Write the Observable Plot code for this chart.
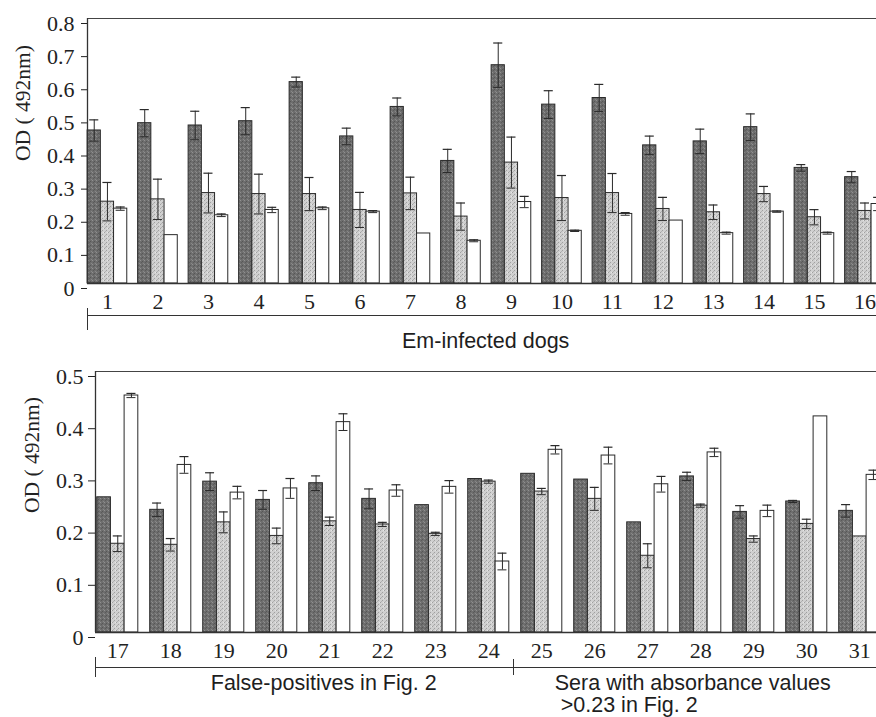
<!DOCTYPE html>
<html>
<head>
<meta charset="utf-8">
<script src="https://cdn.jsdelivr.net/npm/d3@7"></script>
<script src="https://cdn.jsdelivr.net/npm/@observablehq/plot@0.6"></script>
<style>
  body { margin: 0; background: #fff; }
  #wrap { position: relative; width: 876px; height: 717px; overflow: hidden; background: #fff; }
  #wrap svg.panel { position: absolute; left: 0; }
  .br { position: absolute; border-top: 1px solid #333; height: 0; }
  .tick { position: absolute; border-left: 1px solid #333; width: 0; }
  .cap { position: absolute; font-family: "Liberation Sans", Arial, sans-serif; color: #1e1e1e; line-height: 1; white-space: nowrap; }
</style>
</head>
<body>
<svg width="0" height="0" style="position:absolute">
  <defs>
    <pattern id="pDark" width="4" height="4" patternUnits="userSpaceOnUse">
      <rect width="4" height="4" fill="#6e6e6e"/>
      <rect x="0" y="0" width="1" height="1" fill="#909090"/>
      <rect x="2" y="1" width="1" height="1" fill="#565656"/>
      <rect x="3" y="3" width="1" height="1" fill="#888888"/>
      <rect x="1" y="2" width="1" height="1" fill="#5b5b5b"/>
    </pattern>
    <pattern id="pStip" width="4" height="4" patternUnits="userSpaceOnUse">
      <rect width="4" height="4" fill="#d0d0d0"/>
      <rect x="0" y="0" width="1" height="1" fill="#a0a0a0"/>
      <rect x="2" y="2" width="1" height="1" fill="#a0a0a0"/>
      <rect x="3" y="0" width="1" height="1" fill="#e6e6e6"/>
      <rect x="1" y="3" width="1" height="1" fill="#b2b2b2"/>
    </pattern>
  </defs>
</svg>
<div id="wrap"></div>
<script>
// ---------- data: top panel (Em-infected dogs) ----------
const groupsTop = [1, 2, 3, 4, 5, 6, 7, 8, 9, 10, 11, 12, 13, 14, 15, 16];
const darkTop   = [0.462, 0.484, 0.477, 0.490, 0.608, 0.444, 0.533, 0.370, 0.659, 0.540, 0.560, 0.417, 0.429, 0.472, 0.349, 0.321];
const darkTopE  = [0.032, 0.041, 0.043, 0.041, 0.015, 0.025, 0.027, 0.035, 0.067, 0.042, 0.041, 0.028, 0.037, 0.040, 0.010, 0.017];
const stipTop   = [0.247, 0.254, 0.273, 0.270, 0.270, 0.222, 0.272, 0.202, 0.365, 0.258, 0.273, 0.225, 0.215, 0.270, 0.200, 0.219];
const stipTopE  = [0.058, 0.061, 0.060, 0.060, 0.050, 0.053, 0.049, 0.041, 0.077, 0.068, 0.059, 0.035, 0.022, 0.023, 0.023, 0.024];
const whiteTop  = [0.226, 0.146, 0.206, 0.222, 0.227, 0.217, 0.151, 0.129, 0.246, 0.159, 0.210, 0.190, 0.152, 0.217, 0.152, 0.240];
const whiteTopE = [0.005, 0.000, 0.004, 0.008, 0.004, 0.003, 0.000, 0.003, 0.017, 0.002, 0.004, 0.000, 0.003, 0.002, 0.003, 0.020];
const ticksTop  = [0, 0.1, 0.2, 0.3, 0.4, 0.5, 0.6, 0.7, 0.8];

// ---------- data: bottom panel ----------
const groupsBot = [17, 18, 19, 20, 21, 22, 23, 24, 25, 26, 27, 28, 29, 30, 31];
const darkBot   = [0.259, 0.235, 0.289, 0.254, 0.286, 0.256, 0.244, 0.294, 0.304, 0.293, 0.211, 0.299, 0.231, 0.251, 0.233];
const darkBotE  = [0.000, 0.013, 0.017, 0.018, 0.014, 0.019, 0.000, 0.000, 0.000, 0.000, 0.000, 0.008, 0.012, 0.002, 0.012];
const stipBot   = [0.170, 0.168, 0.211, 0.185, 0.213, 0.207, 0.189, 0.289, 0.270, 0.256, 0.147, 0.243, 0.179, 0.208, 0.184];
const stipBotE  = [0.015, 0.012, 0.020, 0.015, 0.008, 0.004, 0.003, 0.003, 0.006, 0.022, 0.023, 0.003, 0.006, 0.009, 0.001];
const whiteBot  = [0.454, 0.321, 0.268, 0.276, 0.403, 0.272, 0.279, 0.136, 0.350, 0.339, 0.284, 0.345, 0.233, 0.414, 0.302];
const whiteBotE = [0.004, 0.016, 0.012, 0.019, 0.016, 0.011, 0.012, 0.016, 0.008, 0.016, 0.015, 0.008, 0.011, 0.001, 0.009];
const ticksBot  = [0, 0.1, 0.2, 0.3, 0.4, 0.5];

const yLabel = "OD ( 492nm)";
const captionTop = "Em-infected dogs";
const captionBotA = "False-positives in Fig. 2";
const captionBotB1 = "Sera with absorbance values";
const captionBotB2 = ">0.23 in Fig. 2";

const fills = ["url(#pDark)", "url(#pStip)", "#ffffff"];
const serif = "'Liberation Serif', 'Times New Roman', serif";
const ink = "#2a2a2a";

function panel(cfg) {
  const rows = [];
  cfg.groups.forEach((g, i) => cfg.series.forEach((arr, k) => rows.push({g, k, v: arr[i], e: cfg.errs[k][i]})));
  const gw = cfg.gw;
  const bx1 = d => d.g - gw / 2 + d.k * gw / 3;
  const bx2 = d => bx1(d) + gw / 3;
  const bxc = d => bx1(d) + gw / 6;
  const cw = cfg.capW;
  const errRows = rows.filter(d => d.e > 0.001);
  const ymax = cfg.yTicks[cfg.yTicks.length - 1];
  const marks = [];
  [0, 1, 2].forEach(k => {
    marks.push(Plot.rectY(rows.filter(d => d.k === k), {
      x1: bx1, x2: bx2, y1: 0, y2: "v",
      fill: fills[k], stroke: ink, strokeWidth: 1
    }));
  });
  marks.push(
    Plot.ruleX(errRows, {x: bxc, y1: d => d.v - d.e, y2: d => d.v + d.e, stroke: ink, strokeWidth: 1}),
    Plot.ruleY(errRows, {y: d => d.v + d.e, x1: d => bxc(d) - cw, x2: d => bxc(d) + cw, stroke: ink, strokeWidth: 1.2}),
    Plot.ruleY(errRows, {y: d => d.v - d.e, x1: d => bxc(d) - cw, x2: d => bxc(d) + cw, stroke: ink, strokeWidth: 1}),
    Plot.ruleY([0], {stroke: "#333", strokeWidth: 1.3}),
    Plot.ruleY([ymax], {stroke: "#444", strokeWidth: 1.1}),
    Plot.ruleX([cfg.xDomain[0]], {stroke: "#333", strokeWidth: 1.3}),
    Plot.axisY(cfg.yTicks, {
      tickSize: cfg.tickSizeY, tickPadding: cfg.tickPadY, label: null,
      tickFormat: d => String(+d.toFixed(1)),
      fontSize: 22, fontFamily: serif, dy: 5, color: "#222"
    }),
    Plot.axisX(cfg.groups, {
      tickSize: 0, tickPadding: 10, label: null, tickFormat: d => String(d),
      fontSize: 22, fontFamily: serif, color: "#222"
    }),
    Plot.text([yLabel], {
      frameAnchor: "left", rotate: -90, dx: cfg.labelDx, dy: cfg.labelDy,
      fontSize: 21.5, fontFamily: serif, fill: "#222"
    })
  );
  return Plot.plot({
    width: 876, height: cfg.height,
    marginLeft: cfg.marginLeft, marginRight: 0, marginTop: cfg.marginTop, marginBottom: cfg.marginBottom,
    style: {background: "transparent", overflow: "hidden", fontFamily: serif, fontSize: "22px"},
    x: {type: "linear", domain: cfg.xDomain, range: cfg.xRange},
    y: {domain: [0, ymax]},
    marks
  });
}

const wrap = document.getElementById("wrap");

// ---- top panel ----
const topPlot = panel({
  groups: groupsTop,
  series: [darkTop, stipTop, whiteTop],
  errs: [darkTopE, stipTopE, whiteTopE],
  yTicks: ticksTop,
  gw: 0.785, capW: 0.09,
  height: 320, marginLeft: 87, marginTop: 18, marginBottom: 37,
  xDomain: [0.605, 17], xRange: [87, 87 + (17 - 0.605) * 50.5],
  tickSizeY: 6, tickPadY: 7, labelDx: -64, labelDy: 10
});
topPlot.classList.add("panel");
topPlot.style.top = "0px";
wrap.appendChild(topPlot);

// ---- bottom panel ----
const botPlot = panel({
  groups: groupsBot,
  series: [darkBot, stipBot, whiteBot],
  errs: [darkBotE, stipBotE, whiteBotE],
  yTicks: ticksBot,
  gw: 0.775, capW: 0.085,
  height: 308, marginLeft: 95, marginTop: 9, marginBottom: 38,
  xDomain: [16.58, 33], xRange: [95, 95 + (33 - 16.58) * 53],
  tickSizeY: 7, tickPadY: 5, labelDx: -63, labelDy: 11
});
botPlot.classList.add("panel");
botPlot.style.top = "362px";
wrap.appendChild(botPlot);

// ---- group brackets & captions (positioned from the plots' x scales) ----
function el(cls, css, text) {
  const d = document.createElement("div");
  d.className = cls;
  Object.assign(d.style, css);
  if (text) d.textContent = text;
  wrap.appendChild(d);
  return d;
}
const xt = topPlot.scale("x");
const tL = xt.apply(groupsTop[0] - 0.3925), tR = xt.apply(groupsTop[groupsTop.length - 1] + 0.3925);
el("br", {left: tL + "px", top: "315px", width: (tR - tL) + "px"});
el("tick", {left: tL + "px", top: "308px", height: "22px"});
el("cap", {left: tL + "px", width: (tR - tL) + "px", top: "331px", fontSize: "21.5px", textAlign: "center"}, captionTop);

const xb = botPlot.scale("x");
const bL = xb.apply(groupsBot[0] - 0.3875 - 0.04), bM = xb.apply(24.5) - 2, bR = 900;
el("br", {left: bL + "px", top: "667px", width: (bR - bL) + "px"});
el("tick", {left: bL + "px", top: "657px", height: "20px"});
el("tick", {left: bM + "px", top: "659px", height: "16px"});
el("cap", {left: bL + 20 + "px", width: (bM - bL) + "px", top: "673px", fontSize: "21.5px", textAlign: "center"}, captionBotA);
el("cap", {left: bM + 42 + "px", top: "673px", fontSize: "21.5px"}, captionBotB1);
el("cap", {left: bM + 48 + "px", top: "695px", fontSize: "21.5px"}, captionBotB2);
</script>
</body>
</html>
